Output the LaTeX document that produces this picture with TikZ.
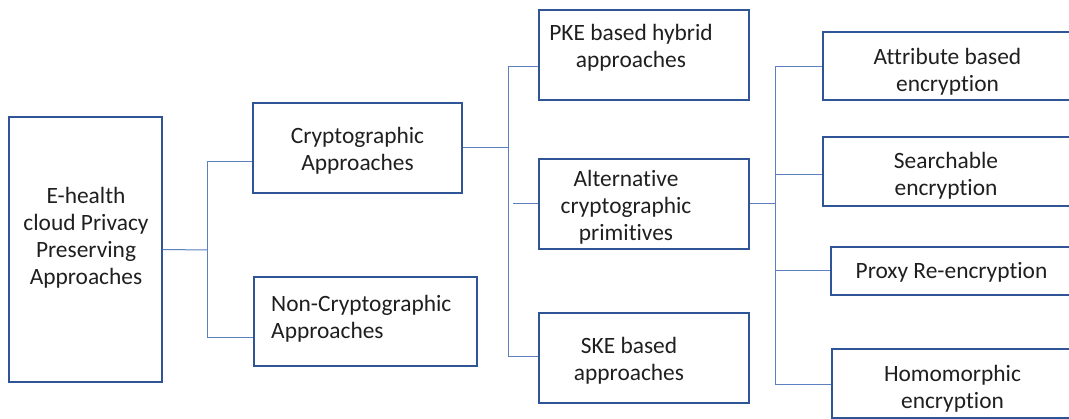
\documentclass[tikz,border=0pt]{standalone}
\usepackage{fontspec}
\setmainfont{Carlito}[Ligatures=NoCommon]
\definecolor{boxblue}{HTML}{2F5597}
\definecolor{linkblue}{HTML}{5B7FBF}
\newcommand{\fs}{\fontsize{23.4}{27}\selectfont}

\begin{document}
\begin{tikzpicture}
  [x=1pt,y=-1pt,
   box/.style={draw=boxblue,line width=1.5pt,inner sep=0pt},
   txt/.style={align=center,inner sep=0pt,font=\fs,text=black!88},
   link/.style={draw=linkblue,line width=1pt}]
  \clip (0,0) rectangle (1069,419);

  % boxes
  \node[box,minimum width=153,minimum height=265] (root) at (85.5,249.5) {};
  \node[box,minimum width=209,minimum height=90] (crypto) at (357.5,148) {};
  \node[box,minimum width=223,minimum height=89] (noncrypto) at (365.5,321.5) {};
  \node[box,minimum width=210,minimum height=90] (pke) at (644,55) {};
  \node[box,minimum width=210,minimum height=90] (alt) at (644,204) {};
  \node[box,minimum width=210,minimum height=90] (ske) at (644,358) {};
  \node[box,minimum width=249,minimum height=68] (attr) at (947.5,66) {};
  \node[box,minimum width=249,minimum height=69] (search) at (947.5,171.5) {};
  \node[box,minimum width=241,minimum height=48] (proxy) at (951.5,271) {};
  \node[box,minimum width=240,minimum height=69] (homo) at (952,383.5) {};

  % texts
  \node[txt] (roottxt) at (86,238) {E-health\\cloud Privacy\\Preserving\\Approaches};
  \node[txt] (cryptotxt) at (357.5,150.5) {Cryptographic\\Approaches};
  \node[txt,align=left,anchor=west] (noncryptotxt) at (271,318.5) {Non-Cryptographic\\Approaches};
  \node[txt] (pketxt) at (631,48) {PKE based hybrid\\approaches};
  \node[txt] (alttxt) at (626,207) {Alternative\\cryptographic\\primitives};
  \node[txt] (sketxt) at (629,361) {SKE based\\approaches};
  \node[txt] (attrtxt) at (947.5,71.5) {Attribute based\\encryption};
  \node[txt] (searchtxt) at (946,176) {Searchable\\encryption};
  \node[txt] (proxytxt) at (951.5,272.5) {Proxy Re-encryption};
  \node[txt] (homotxt) at (952.5,389) {Homomorphic\\encryption};

  % joints
  \coordinate (j1) at (207,250);
  \coordinate (j2) at (508,148);
  \coordinate (j2b) at (513,204);
  \coordinate (j3) at (775,204);

  \draw[link] (root.east) -- (j1);
  \foreach \to/\s in {crypto/-14,noncrypto/-16.5}
    \draw[link] (j1) |- ([yshift=\s pt]\to.west);

  \draw[link] (crypto.east) -- (j2);
  \foreach \to/\s in {pke/-12,ske/1}
    \draw[link] (j2) |- ([yshift=\s pt]\to.west);
  \draw[link] (j2b) -- (alt);

  \draw[link] (alt.east) -- (j3);
  \foreach \to/\s in {attr/-1,search/-3.5,proxy/0,homo/-1.5}
    \draw[link] (j3) |- ([yshift=\s pt]\to.west);

\end{tikzpicture}
\end{document}
